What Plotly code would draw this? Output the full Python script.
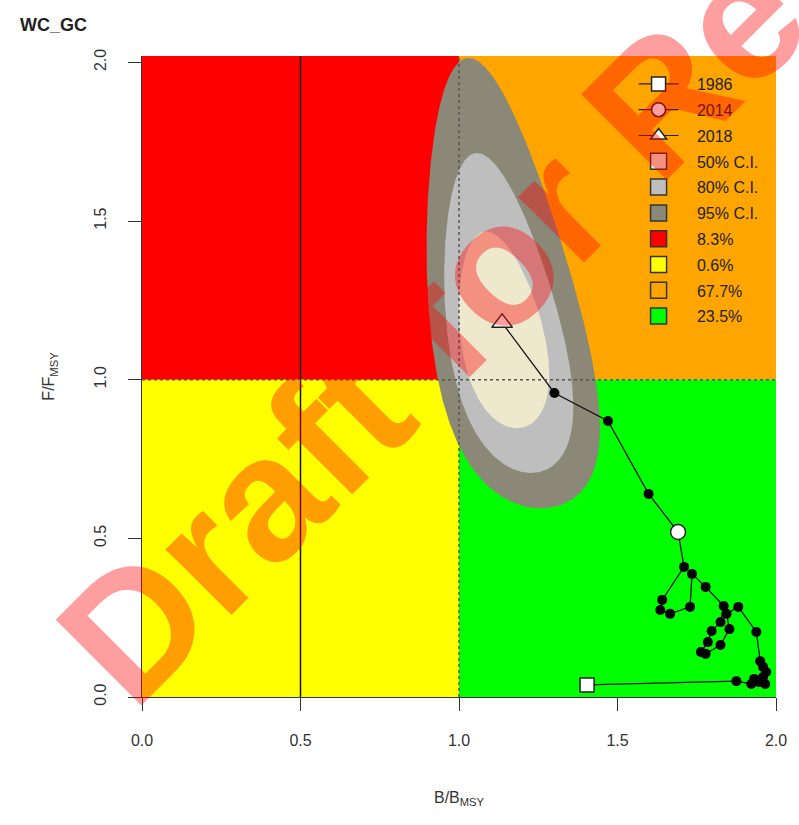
import numpy as np
import plotly.graph_objects as go

# ---------------- data ----------------
years = list(range(1986, 2019))
b_ratio = [1.404, 1.875, 1.922, 1.931, 1.947, 1.966, 1.959, 1.969, 1.959, 1.950,
           1.938, 1.881, 1.844, 1.853, 1.825, 1.778, 1.763, 1.785, 1.797, 1.825,
           1.835, 1.778, 1.735, 1.729, 1.666, 1.635, 1.641, 1.710, 1.691, 1.598,
           1.470, 1.301, 1.136]
f_ratio = [0.038, 0.050, 0.041, 0.057, 0.047, 0.041, 0.063, 0.079, 0.095, 0.113,
           0.205, 0.284, 0.262, 0.214, 0.164, 0.136, 0.142, 0.173, 0.208, 0.236,
           0.287, 0.347, 0.388, 0.284, 0.262, 0.274, 0.306, 0.410, 0.520, 0.640,
           0.870, 0.958, 1.179]
highlight_years = [1986, 2014, 2018]
highlight_symbols = ["square", "circle", "triangle-up"]
highlight_sizes = [14, 15, 18]

# confidence regions (log-space ellipse parameters)
ci_labels = ["50% C.I.", "80% C.I.", "95% C.I."]
ci_colors = ["#EEE8CD", "#BEBEBE", "#8B8878"]
ci_logb_center = [0.125, 0.130, 0.130]
ci_logf_center = [0.1085, 0.0955, 0.090]
ci_logb_half = [0.1255, 0.178, 0.238]
ci_logf_half = [0.2745, 0.4435, 0.610]
ci_rho = [-0.34, -0.42, -0.42]

# Kobe quadrants
quad_labels = ["8.3%", "0.6%", "67.7%", "23.5%"]
quad_colors = ["#FF0000", "#FFFF00", "#FFA500", "#00FF00"]
quad_b = [(0, 1), (0, 1), (1, 2), (1, 2)]
quad_f = [(1, 2.02), (0, 1), (1, 2.02), (0, 1)]

tick_vals = [0.0, 0.5, 1.0, 1.5, 2.0]
x_range = [0, 2]
y_range = [0, 2.02]

FONT = "Arial, Liberation Sans, sans-serif"
fig = go.Figure()

# quadrant backgrounds
shapes = []
for (b0, b1), (f0, f1), col in zip(quad_b, quad_f, quad_colors):
    shapes.append(dict(type="rect", xref="x", yref="y", x0=b0, x1=b1, y0=f0, y1=f1,
                       fillcolor=col, line=dict(width=0), layer="below"))

# confidence regions, largest first (clipped to the plotted F range)
t = np.linspace(0, 2 * np.pi, 721)
for i in [2, 1, 0]:
    u = np.cos(t)
    v = np.sin(t)
    r = ci_rho[i]
    lx = ci_logb_center[i] + ci_logb_half[i] * u
    ly = ci_logf_center[i] + ci_logf_half[i] * (r * u + np.sqrt(1 - r * r) * v)
    yy = np.minimum(np.exp(ly), y_range[1])
    fig.add_trace(go.Scatter(x=np.exp(lx), y=yy, mode="lines", fill="toself",
                             fillcolor=ci_colors[i], line=dict(width=0),
                             hoverinfo="skip", showlegend=False))

# reference lines
shapes.append(dict(type="line", xref="x", yref="y", x0=0.5, x1=0.5, y0=0, y1=y_range[1],
                   line=dict(color="#111111", width=1.5), layer="above"))
shapes.append(dict(type="line", xref="x", yref="y", x0=1, x1=1, y0=0, y1=y_range[1],
                   line=dict(color="#555555", width=1.5, dash="dot"), layer="above"))
shapes.append(dict(type="line", xref="x", yref="y", x0=0, x1=2, y0=1, y1=1,
                   line=dict(color="#555555", width=1.5, dash="dot"), layer="above"))

# trajectory
fig.add_trace(go.Scatter(x=b_ratio, y=f_ratio, mode="lines+markers",
                         line=dict(color="#111111", width=1.3),
                         marker=dict(color="black", size=10),
                         showlegend=False))
for yr, sym, sz in zip(highlight_years, highlight_symbols, highlight_sizes):
    k = years.index(yr)
    fig.add_trace(go.Scatter(x=[b_ratio[k]], y=[f_ratio[k]], mode="markers",
                             marker=dict(symbol=sym, size=sz, color="white",
                                         line=dict(color="#222222", width=1.5)),
                             showlegend=False))

# legend entries
pad = "   "
g = 0
for yr, sym, sz in zip(highlight_years, highlight_symbols, highlight_sizes):
    fig.add_trace(go.Scatter(x=[None], y=[None], mode="lines+markers", name=pad + str(yr),
                             legendgroup="g%d" % g,
                             line=dict(color="#222222", width=1.2),
                             marker=dict(symbol=sym, size=min(sz, 14), color="white",
                                         line=dict(color="#222222", width=1.5))))
    g += 1
for lab, col in zip(ci_labels, ci_colors):
    fig.add_trace(go.Scatter(x=[None], y=[None], mode="markers", name=pad + lab,
                             legendgroup="g%d" % g,
                             marker=dict(symbol="square", size=16, color=col,
                                         line=dict(color="#333333", width=1.5))))
    g += 1
for lab, col in zip(quad_labels, quad_colors):
    fig.add_trace(go.Scatter(x=[None], y=[None], mode="markers", name=pad + lab,
                             legendgroup="g%d" % g,
                             marker=dict(symbol="square", size=16, color=col,
                                         line=dict(color="#333333", width=1.5))))
    g += 1

axis_common = dict(tickvals=tick_vals, tickformat=".1f", ticks="outside", ticklen=13,
                   tickcolor="#333333", tickwidth=1, showline=True, linecolor="#333333",
                   linewidth=1, showgrid=False, zeroline=False,
                   tickfont=dict(family=FONT, size=16, color="#333333"))

L, R, T, B = 142, 16, 56, 128
W, H = 799, 825
pw, ph = W - L - R, H - T - B

def px_to_paper(px, py):
    return (px - L) / pw, (H - B - py) / ph

wx, wy = px_to_paper(572, 193)

fig.update_layout(
    width=W, height=H,
    margin=dict(l=L, r=R, t=T, b=B),
    paper_bgcolor="white", plot_bgcolor="white",
    shapes=shapes,
    title=dict(text="<b>WC_GC</b>", x=20 / W, xanchor="left", xref="container",
               y=1 - 25 / H, yanchor="middle", yref="container",
               font=dict(family=FONT, size=18, color="#222222")),
    xaxis=dict(range=x_range, ticklabelstandoff=16,
               title=dict(text="B/B<sub>MSY</sub>", standoff=43,
                          font=dict(family=FONT, size=16, color="#333333")),
               **axis_common),
    yaxis=dict(range=y_range, tickangle=-90, ticklabelstandoff=16,
               title=dict(text="F/F<sub>MSY</sub>", standoff=32,
                          font=dict(family=FONT, size=16, color="#333333")),
               **axis_common),
    legend=dict(x=px_to_paper(639, 0)[0], xanchor="left", y=px_to_paper(0, 67)[1],
                yanchor="top", bgcolor="rgba(0,0,0,0)", borderwidth=0,
                traceorder="grouped", tracegroupgap=2, itemwidth=40,
                font=dict(family=FONT, size=16, color="#222222")),
    annotations=[dict(text="<b>Draft for Review</b>", xref="paper", yref="paper",
                      x=wx, y=wy, xanchor="center", yanchor="middle",
                      showarrow=False, textangle=-45,
                      font=dict(family=FONT, size=176, color="rgba(255,0,0,0.38)"))],
)

fig.write_html("out.html")
